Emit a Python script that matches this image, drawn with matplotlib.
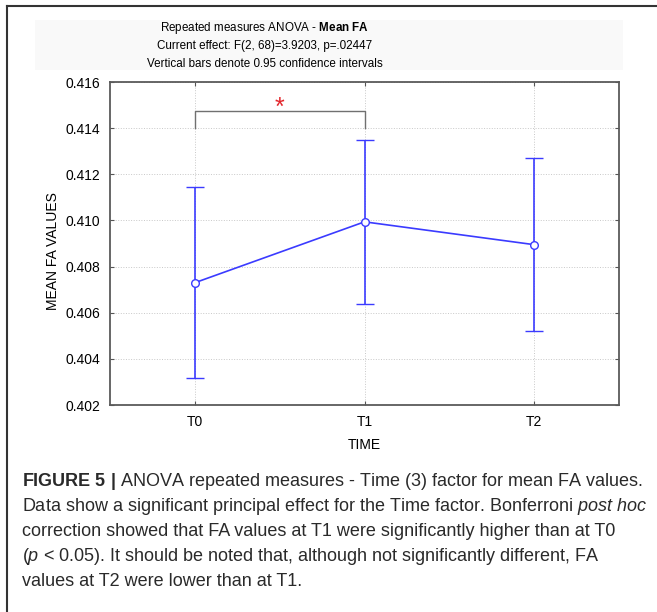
import matplotlib
matplotlib.use('Agg')
import matplotlib.pyplot as plt
from matplotlib.patches import Rectangle
from matplotlib.lines import Line2D

plt.rcParams['font.family'] = ['Liberation Sans', 'DejaVu Sans']
plt.rcParams['mathtext.fontset'] = 'custom'
plt.rcParams['mathtext.rm'] = 'Liberation Sans'
plt.rcParams['mathtext.it'] = 'Liberation Sans:italic'
plt.rcParams['mathtext.bf'] = 'Liberation Sans:bold'

# data
times = ['T0', 'T1', 'T2']
means = [0.4073, 0.40994, 0.40895]
ci_low = [0.40317, 0.4064, 0.40521]
ci_high = [0.41144, 0.41348, 0.41269]
yticks = [0.402, 0.404, 0.406, 0.408, 0.410, 0.412, 0.414, 0.416]

title_lines = [r'Repeated measures ANOVA - $\mathbf{Mean\ FA}$',
               'Current effect: F(2, 68)=3.9203, p=.02447',
               'Vertical bars denote 0.95 confidence intervals']

caption = [r'$\mathbf{FIGURE\ 5\ |}$ ANOVA repeated measures - Time (3) factor for mean FA values.',
           r'Data show a significant principal effect for the Time factor. Bonferroni $\mathit{post\ hoc}$',
           'correction showed that FA values at T1 were significantly higher than at T0',
           r'($\mathit{p}$ < 0.05). It should be noted that, although not significantly different, FA',
           'values at T2 were lower than at T1.']

fig = plt.figure(figsize=(6.57, 6.12), dpi=100)
ax = fig.add_axes([0.1674, 0.3382, 0.7748, 0.5278])

x = list(range(len(times)))
yerr = [[m - lo for m, lo in zip(means, ci_low)],
        [hi - m for m, hi in zip(means, ci_high)]]
blue = '#3b3bff'
ax.errorbar(x, means, yerr=yerr, color=blue, lw=1.2, capsize=6.3, capthick=1.2,
            marker='o', ms=5.5, mfc='white', mec=blue, mew=1.0, zorder=3)

# significance bracket T0 - T1
ax.plot([0, 0, 1, 1], [0.414, 0.41473, 0.41473, 0.414], color='#707070', lw=1.0)
ax.text(0.5, 0.4149, '*', color='#e3262c', fontsize=18, ha='center', va='center')

ax.set_xlim(-0.5, 2.5)
ax.set_ylim(0.402, 0.416)
ax.set_xticks(x)
ax.set_xticklabels(times)
ax.set_yticks(yticks)
ax.set_yticklabels([f'{v:.3f}' for v in yticks])
ax.tick_params(direction='in', length=3, width=0.8, color='#555555', labelsize=10,
               top=True, right=True, pad=7)
ax.grid(True, ls=':', color='#c8c8c8', lw=0.7)
for s in ax.spines.values():
    s.set_color('#5a5a5a')
    s.set_linewidth(1.3)

ax.set_xlabel('TIME', fontsize=10, labelpad=7)
fig.text(0.0807, 0.59, 'MEAN FA VALUES', rotation=90, fontsize=10, ha='center', va='center')

# title band
fig.patches.append(Rectangle((0.053, 0.8856), 0.895, 0.0814, transform=fig.transFigure,
                             facecolor='#f9f9f9', edgecolor='none', zorder=0))
for i, t in enumerate(title_lines):
    fig.text(0.403, 0.955 - i * 0.0295, t, fontsize=8.4, ha='center', va='center')

# frame of the figure panel
fig.lines.append(Line2D([0.0114, 1.0], [0.990, 0.990], transform=fig.transFigure,
                        color='#333333', lw=1.5))
fig.lines.append(Line2D([0.0114, 0.0114], [0.990, 0.0], transform=fig.transFigure,
                        color='#333333', lw=1.5))

for i, line in enumerate(caption):
    fig.text(0.0335, 1 - (482 + i * 24.8) / 612, line, fontsize=13, ha='left',
             va='center', color='#2a2a2a')

fig.savefig('out.png', dpi=100)
